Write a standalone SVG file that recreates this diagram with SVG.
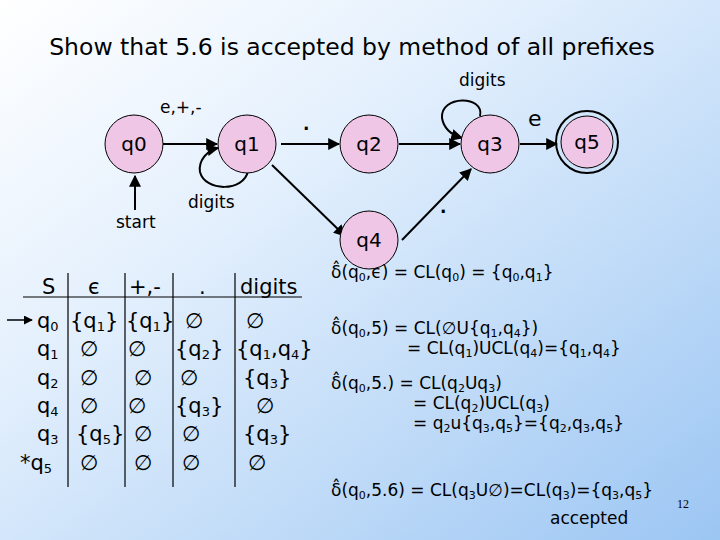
<svg xmlns="http://www.w3.org/2000/svg" width="720" height="540" viewBox="0 0 720 540">
<defs>
<linearGradient id="bg" x1="0" y1="0" x2="1" y2="1">
<stop offset="0" stop-color="#ffffff"/><stop offset="0.35" stop-color="#e4f0fd"/><stop offset="1" stop-color="#9cc6f3"/>
</linearGradient>
<marker id="ah" viewBox="0 0 10 10" refX="9" refY="5" markerWidth="6" markerHeight="6" orient="auto"><path d="M0,0 L10,5 L0,10 z" fill="#000"/></marker>
<style>
text{font-family:"DejaVu Sans","Liberation Sans",sans-serif;fill:#000}
.n{fill:#efc6e6;stroke:#000;stroke-width:1}
.nl{font-size:20px;text-anchor:middle}
.e{fill:none;stroke:#000;stroke-width:2;marker-end:url(#ah)}
.lb{font-size:17px}
.t{font-size:21px}
.f{font-size:17px}
.g{stroke:#000;stroke-width:1.2}
</style>
</defs>
<rect width="720" height="540" fill="url(#bg)"/>
<text x="352" y="55" font-size="23.5" text-anchor="middle">Show that 5.6 is accepted by method of all prefixes</text>
<g id="connectors">
<line class="e" x1="163" y1="144" x2="217" y2="144"/>
<line class="e" x1="135" y1="210" x2="135" y2="176"/>
<path class="e" d="M248,171 C244,192 205,192 200,172 C198,160 208,150 218,148"/>
<line class="e" x1="281" y1="144" x2="339" y2="144"/>
<line class="e" x1="399" y1="144" x2="460" y2="144"/>
<path class="e" d="M480,116 C485,95 440,95 442,118 C444,130 452,135 462,138"/>
<line class="e" x1="520" y1="144" x2="557" y2="144"/>
<line class="e" x1="272" y1="165" x2="345" y2="236"/>
<line class="e" x1="402" y1="240" x2="471" y2="169"/>
</g>
<g id="q0"><circle class="n" cx="134" cy="144" r="29"/><text class="nl" x="134" y="151">q0</text></g>
<g id="q1"><circle class="n" cx="247" cy="144" r="29"/><text class="nl" x="247" y="151">q1</text></g>
<g id="q2"><circle class="n" cx="369" cy="144" r="29"/><text class="nl" x="369" y="151">q2</text></g>
<g id="q3"><circle class="n" cx="490" cy="144" r="29"/><text class="nl" x="490" y="151">q3</text></g>
<g id="q5"><circle cx="587" cy="142" r="31" fill="none" stroke="#000" stroke-width="2"/><circle class="n" cx="587" cy="142" r="26"/><text class="nl" x="587" y="149">q5</text></g>
<g id="q4"><circle class="n" cx="369" cy="240" r="29"/><text class="nl" x="369" y="247">q4</text></g>
<g id="labels">
<text class="lb" x="160" y="113">e,+,-</text>
<text class="lb" x="303" y="130" font-weight="bold">.</text>
<text class="lb" x="188" y="208">digits</text>
<text class="lb" x="116" y="228">start</text>
<text class="lb" x="459" y="86">digits</text>
<text x="528" y="126" font-size="22">e</text>
<text class="lb" x="440" y="213" font-weight="bold">.</text>
</g>
<g id="table">
<line class="g" x1="23" y1="297" x2="302" y2="297"/>
<line class="g" x1="68" y1="273" x2="68" y2="487"/>
<line class="g" x1="125" y1="273" x2="125" y2="487"/>
<line class="g" x1="173" y1="273" x2="173" y2="487"/>
<line class="g" x1="235" y1="273" x2="235" y2="487"/>
<line class="e" x1="7" y1="320" x2="32" y2="320" style="stroke-width:1.5"/>
<text class="t" x="42" y="294" font-size="24">S</text>
<text class="t" x="88" y="294">є</text>
<text class="t" x="129" y="294">+,-</text>
<text class="t" x="199" y="294">.</text>
<text class="t" x="240" y="294">digits</text>
<text class="t" x="37" y="328">q<tspan font-size="13" dy="3">0</tspan></text>
<text class="t" x="37" y="356">q<tspan font-size="13" dy="3">1</tspan></text>
<text class="t" x="37" y="385">q<tspan font-size="13" dy="3">2</tspan></text>
<text class="t" x="37" y="413">q<tspan font-size="13" dy="3">4</tspan></text>
<text class="t" x="37" y="441">q<tspan font-size="13" dy="3">3</tspan></text>
<text class="t" x="20" y="470">*q<tspan font-size="13" dy="3">5</tspan></text>
<text class="t" x="70" y="328">{q<tspan font-size="13" dy="3">1</tspan><tspan dy="-3">}</tspan></text>
<text class="t" x="126" y="328">{q<tspan font-size="13" dy="3">1</tspan><tspan dy="-3">}</tspan></text>
<text class="t" x="185" y="328">∅</text>
<text class="t" x="246" y="328">∅</text>
<text class="t" x="80" y="356">∅</text>
<text class="t" x="128" y="356">∅</text>
<text class="t" x="175" y="356">{q<tspan font-size="13" dy="3">2</tspan><tspan dy="-3">}</tspan></text>
<text class="t" x="236" y="356">{q<tspan font-size="13" dy="3">1</tspan><tspan dy="-3">,q</tspan><tspan font-size="13" dy="3">4</tspan><tspan dy="-3">}</tspan></text>
<text class="t" x="80" y="385">∅</text>
<text class="t" x="134" y="385">∅</text>
<text class="t" x="180" y="385">∅</text>
<text class="t" x="243" y="385">{q<tspan font-size="13" dy="3">3</tspan><tspan dy="-3">}</tspan></text>
<text class="t" x="80" y="413">∅</text>
<text class="t" x="128" y="413">∅</text>
<text class="t" x="175" y="413">{q<tspan font-size="13" dy="3">3</tspan><tspan dy="-3">}</tspan></text>
<text class="t" x="256" y="413">∅</text>
<text class="t" x="76" y="441">{q<tspan font-size="13" dy="3">5</tspan><tspan dy="-3">}</tspan></text>
<text class="t" x="134" y="441">∅</text>
<text class="t" x="182" y="441">∅</text>
<text class="t" x="243" y="441">{q<tspan font-size="13" dy="3">3</tspan><tspan dy="-3">}</tspan></text>
<text class="t" x="80" y="470">∅</text>
<text class="t" x="134" y="470">∅</text>
<text class="t" x="182" y="470">∅</text>
<text class="t" x="248" y="470">∅</text>
</g>
<g id="formulas">
<text class="f" x="331" y="278">δ̂(q<tspan font-size="11" dy="3">0</tspan><tspan dy="-3">,ϵ) = CL(q</tspan><tspan font-size="11" dy="3">0</tspan><tspan dy="-3">) = {q</tspan><tspan font-size="11" dy="3">0</tspan><tspan dy="-3">,q</tspan><tspan font-size="11" dy="3">1</tspan><tspan dy="-3">}</tspan></text>
<text class="f" x="331" y="334">δ̂(q<tspan font-size="11" dy="3">0</tspan><tspan dy="-3">,5) = CL(∅U{q</tspan><tspan font-size="11" dy="3">1</tspan><tspan dy="-3">,q</tspan><tspan font-size="11" dy="3">4</tspan><tspan dy="-3">})</tspan></text>
<text class="f" x="407" y="354">= CL(q<tspan font-size="11" dy="3">1</tspan><tspan dy="-3">)UCL(q</tspan><tspan font-size="11" dy="3">4</tspan><tspan dy="-3">)={q</tspan><tspan font-size="11" dy="3">1</tspan><tspan dy="-3">,q</tspan><tspan font-size="11" dy="3">4</tspan><tspan dy="-3">}</tspan></text>
<text class="f" x="331" y="389">δ̂(q<tspan font-size="11" dy="3">0</tspan><tspan dy="-3">,5.) = CL(q</tspan><tspan font-size="11" dy="3">2</tspan><tspan dy="-3">Uq</tspan><tspan font-size="11" dy="3">3</tspan><tspan dy="-3">)</tspan></text>
<text class="f" x="413" y="409">= CL(q<tspan font-size="11" dy="3">2</tspan><tspan dy="-3">)UCL(q</tspan><tspan font-size="11" dy="3">3</tspan><tspan dy="-3">)</tspan></text>
<text class="f" x="413" y="429">= q<tspan font-size="11" dy="3">2</tspan><tspan dy="-3">u{q</tspan><tspan font-size="11" dy="3">3</tspan><tspan dy="-3">,q</tspan><tspan font-size="11" dy="3">5</tspan><tspan dy="-3">}={q</tspan><tspan font-size="11" dy="3">2</tspan><tspan dy="-3">,q</tspan><tspan font-size="11" dy="3">3</tspan><tspan dy="-3">,q</tspan><tspan font-size="11" dy="3">5</tspan><tspan dy="-3">}</tspan></text>
<text class="f" x="331" y="496">δ̂(q<tspan font-size="11" dy="3">0</tspan><tspan dy="-3">,5.6) = CL(q</tspan><tspan font-size="11" dy="3">3</tspan><tspan dy="-3">U∅)=CL(q</tspan><tspan font-size="11" dy="3">3</tspan><tspan dy="-3">)={q</tspan><tspan font-size="11" dy="3">3</tspan><tspan dy="-3">,q</tspan><tspan font-size="11" dy="3">5</tspan><tspan dy="-3">}</tspan></text>
<text class="f" x="550" y="524">accepted</text>
<text x="677" y="508" font-size="12" style="font-family:'Liberation Serif',serif">12</text>
</g>
</svg>
